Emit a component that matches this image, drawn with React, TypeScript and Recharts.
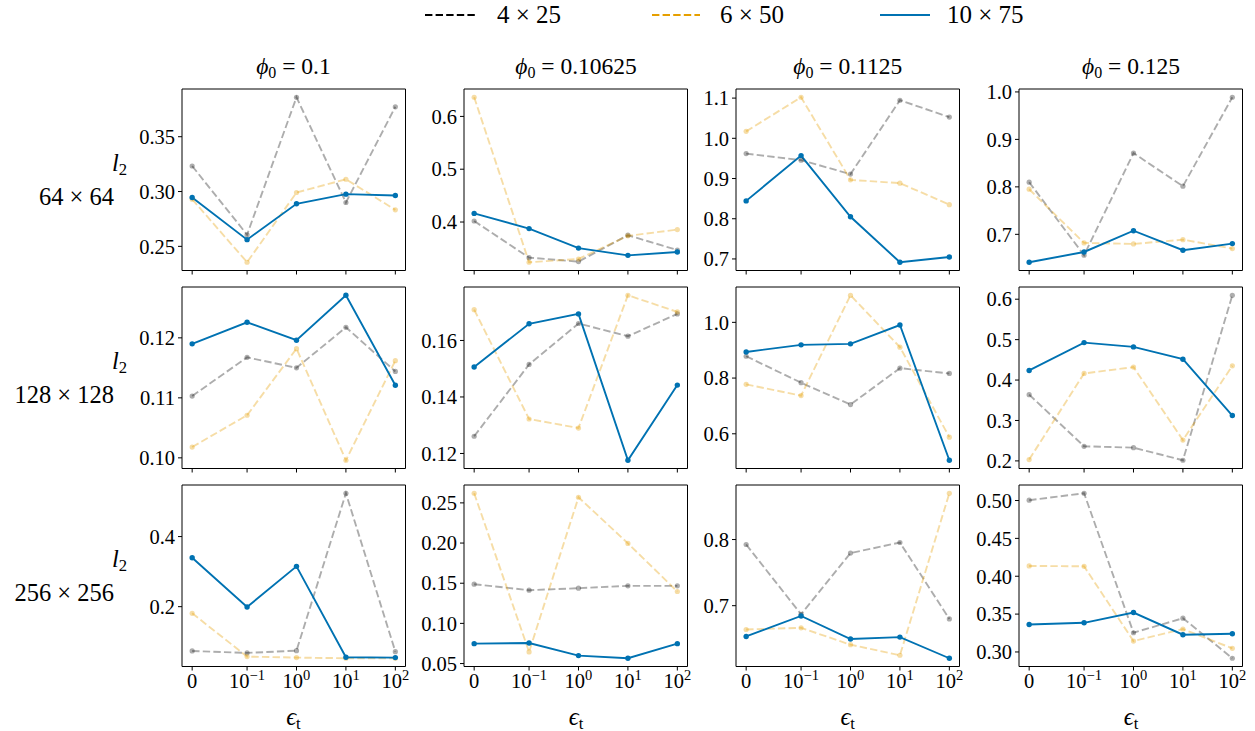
import React from "react";
import { LineChart, Line, XAxis, YAxis, ReferenceArea } from "recharts";

// epsilon_t values on the x axis (symlog scale, linthresh 0.1)
const epsValues = [0, 0.1, 1, 10, 100];
const epsLabels: [string, string][] = [
  ["0", ""],
  ["10", "−1"],
  ["10", "0"],
  ["10", "1"],
  ["10", "2"],
];
const phiLabels = ["0.1", "0.10625", "0.1125", "0.125"];
const resLabels = ["64 × 64", "128 × 128", "256 × 256"];
const netLabels = ["4 × 25", "6 × 50", "10 × 75"];

// l2 error, one row per phi0 column, values over epsValues
const net4x25_64 = [
  [0.3233, 0.2606, 0.386, 0.29, 0.3773],
  [0.4019, 0.3325, 0.325, 0.375, 0.3469],
  [0.962, 0.9457, 0.911, 1.0947, 1.0527],
  [0.8098, 0.656, 0.8712, 0.8014, 0.9888],
];
const net6x50_64 = [
  [0.293, 0.2355, 0.2991, 0.3112, 0.2833],
  [0.6363, 0.3238, 0.33, 0.3738, 0.3856],
  [1.0173, 1.1021, 0.8967, 0.8885, 0.835],
  [0.7951, 0.6819, 0.6798, 0.6888, 0.67],
];
const net10x75_64 = [
  [0.2945, 0.2561, 0.2888, 0.2976, 0.2964],
  [0.4163, 0.3875, 0.3506, 0.3369, 0.3431],
  [0.8444, 0.957, 0.8049, 0.6918, 0.705],
  [0.6412, 0.6628, 0.7077, 0.6665, 0.6805],
];
const net4x25_128 = [
  [0.1103, 0.11675, 0.115, 0.12176, 0.1144],
  [0.1261, 0.1515, 0.166, 0.1615, 0.1694],
  [0.8783, 0.7834, 0.705, 0.8356, 0.8166],
  [0.3639, 0.2361, 0.2328, 0.2016, 0.6098],
];
const net6x50_128 = [
  [0.1018, 0.1071, 0.1182, 0.0996, 0.1162],
  [0.1709, 0.1322, 0.129, 0.176, 0.1701],
  [0.7774, 0.737, 1.0973, 0.911, 0.588],
  [0.2033, 0.4164, 0.432, 0.2516, 0.4352],
];
const net10x75_128 = [
  [0.119, 0.1226, 0.1196, 0.1271, 0.1121],
  [0.1506, 0.1659, 0.1694, 0.1176, 0.1442],
  [0.8937, 0.9193, 0.9229, 0.9905, 0.505],
  [0.4238, 0.4926, 0.482, 0.4516, 0.3123],
];
const net4x25_256 = [
  [0.0736, 0.068, 0.0745, 0.5236, 0.0717],
  [0.1488, 0.1413, 0.1438, 0.1467, 0.1467],
  [0.7925, 0.687, 0.7795, 0.7955, 0.68],
  [0.5004, 0.5096, 0.3254, 0.3446, 0.2917],
];
const net6x50_256 = [
  [0.1811, 0.0575, 0.0547, 0.0528, 0.053],
  [0.262, 0.0645, 0.257, 0.1996, 0.1397],
  [0.664, 0.6665, 0.641, 0.625, 0.87],
  [0.4136, 0.4131, 0.3144, 0.3302, 0.3048],
];
const net10x75_256 = [
  [0.3396, 0.199, 0.315, 0.0557, 0.0547],
  [0.0748, 0.0756, 0.0599, 0.0566, 0.0748],
  [0.6535, 0.6845, 0.6495, 0.6525, 0.6205],
  [0.3363, 0.3385, 0.3521, 0.3228, 0.3241],
];

const yTicks64 = [
  ["0.25", "0.30", "0.35"],
  ["0.4", "0.5", "0.6"],
  ["0.7", "0.8", "0.9", "1.0", "1.1"],
  ["0.7", "0.8", "0.9", "1.0"],
];
const yTicks128 = [
  ["0.10", "0.11", "0.12"],
  ["0.12", "0.14", "0.16"],
  ["0.6", "0.8", "1.0"],
  ["0.2", "0.3", "0.4", "0.5", "0.6"],
];
const yTicks256 = [
  ["0.2", "0.4"],
  ["0.05", "0.10", "0.15", "0.20", "0.25"],
  ["0.7", "0.8"],
  ["0.30", "0.35", "0.40", "0.45", "0.50"],
];

const series4x25 = [net4x25_64, net4x25_128, net4x25_256];
const series6x50 = [net6x50_64, net6x50_128, net6x50_256];
const series10x75 = [net10x75_64, net10x75_128, net10x75_256];
const yTicksByRow = [yTicks64, yTicks128, yTicks256];

const FONT = "'Liberation Serif', 'DejaVu Serif', serif";
const BLACK = "#000000";
const ORANGE = "#E69F00";
const BLUE = "#0072B2";

// layout of the axes boxes (page pixels)
const COLS = [181.7, 464.3, 736, 1019.3];
const ROWS = [89, 287, 485];
const PW = 223.5;
const PH = 181.5;
const YW = 70;
const TOP = 14;
const RIGHT = 6;
const XH = 44;
const TICK_FS = 20.5;
const LABEL_FS = 24.5;

// matplotlib symlog transform, linthresh 0.1, linscale 1
function symlog(v: number) {
  const t = 0.1;
  const k = 1 / (1 - 1 / 10);
  const a = Math.abs(v);
  if (a <= t) return (v / t) * k;
  return Math.sign(v) * (k + Math.log10(a / t));
}

const xPos = epsValues.map(symlog);
const xSpan = xPos[xPos.length - 1] - xPos[0];
const xDomain: [number, number] = [xPos[0] - 0.05 * xSpan, xPos[xPos.length - 1] + 0.05 * xSpan];

function EpsTick(props: any) {
  const { x, y, payload, show } = props;
  if (!show) return <g />;
  let idx = 0;
  xPos.forEach((p, i) => {
    if (Math.abs(p - payload.value) < Math.abs(xPos[idx] - payload.value)) idx = i;
  });
  const [base, exp] = epsLabels[idx];
  return (
    <text x={x} y={y + 15} textAnchor="middle" fontSize={TICK_FS} fill="#000" fontFamily={FONT}>
      {base}
      {exp && (
        <tspan dy={-8} fontSize={14.5}>
          {exp}
        </tspan>
      )}
    </text>
  );
}

function Panel({ row, col }: { row: number; col: number }) {
  const a = series4x25[row][col];
  const b = series6x50[row][col];
  const c = series10x75[row][col];
  const data = epsValues.map((e, i) => ({ x: symlog(e), a: a[i], b: b[i], c: c[i] }));
  const all = [...a, ...b, ...c];
  const lo = Math.min(...all);
  const hi = Math.max(...all);
  const pad = 0.05 * (hi - lo);
  const yDomain: [number, number] = [lo - pad, hi + pad];
  const tickLabels = yTicksByRow[row][col];
  const tickNums = tickLabels.map(Number);
  const showX = row === 2;

  return (
    <div
      style={{
        position: "absolute",
        left: COLS[col] - YW,
        top: ROWS[row] - TOP,
      }}
    >
      <LineChart
        width={YW + PW + RIGHT}
        height={TOP + PH + XH}
        data={data}
        margin={{ top: TOP, right: RIGHT, left: 0, bottom: 0 }}
      >
        <XAxis
          type="number"
          dataKey="x"
          domain={xDomain}
          ticks={xPos}
          interval={0}
          allowDataOverflow
          axisLine={false}
          tickSize={4}
          tickLine={{ stroke: "#000" }}
          height={XH}
          tick={<EpsTick show={showX} />}
        />
        <YAxis
          type="number"
          domain={yDomain}
          ticks={tickNums}
          interval={0}
          allowDataOverflow
          axisLine={false}
          tickSize={4}
          tickMargin={3}
          tickLine={{ stroke: "#000" }}
          width={YW}
          tick={{ fontSize: TICK_FS, fill: "#000", fontFamily: FONT }}
          tickFormatter={(v: number) => tickLabels[tickNums.indexOf(v)] ?? String(v)}
        />
        <Line
          type="linear"
          dataKey="a"
          stroke={BLACK}
          strokeOpacity={0.32}
          strokeWidth={1.9}
          strokeDasharray="7.4 3.2"
          dot={{ r: 2.6, fill: BLACK, fillOpacity: 0.32, stroke: "none" }}
          activeDot={false}
          isAnimationActive={false}
        />
        <Line
          type="linear"
          dataKey="b"
          stroke={ORANGE}
          strokeOpacity={0.35}
          strokeWidth={1.9}
          strokeDasharray="7.4 3.2"
          dot={{ r: 2.6, fill: ORANGE, fillOpacity: 0.35, stroke: "none" }}
          activeDot={false}
          isAnimationActive={false}
        />
        <Line
          type="linear"
          dataKey="c"
          stroke={BLUE}
          strokeWidth={1.9}
          dot={{ r: 2.7, fill: BLUE, stroke: "none" }}
          activeDot={false}
          isAnimationActive={false}
        />
        <ReferenceArea
          x1={xDomain[0]}
          x2={xDomain[1]}
          y1={yDomain[0]}
          y2={yDomain[1]}
          fill="none"
          fillOpacity={0}
          stroke="#000"
          strokeWidth={1}
          strokeOpacity={1}
        />
      </LineChart>
    </div>
  );
}

function Legend() {
  const items = [
    { x1: 425, x2: 476, tx: 497, color: BLACK, dash: "7.4 3.2" },
    { x1: 652, x2: 700, tx: 720, color: ORANGE, dash: "7.4 3.2" },
    { x1: 880, x2: 930, tx: 947, color: BLUE, dash: undefined },
  ];
  return (
    <svg width={1255} height={36} style={{ position: "absolute", left: 0, top: 0 }}>
      {items.map((it, i) => (
        <g key={i}>
          <line x1={it.x1} x2={it.x2} y1={15} y2={15} stroke={it.color} strokeWidth={2} strokeDasharray={it.dash} />
          <text x={it.tx} y={23} fontSize={25} fontFamily={FONT} fill="#000">
            {netLabels[i]}
          </text>
        </g>
      ))}
    </svg>
  );
}

const subStyle: React.CSSProperties = { fontSize: "0.68em", verticalAlign: "-0.22em" };

export default function App() {
  return (
    <div
      style={{
        position: "absolute",
        left: 0,
        top: 0,
        width: 1255,
        height: 731,
        background: "#fff",
        fontFamily: FONT,
        color: "#000",
      }}
    >
      <Legend />
      {phiLabels.map((p, c) => (
        <div
          key={p}
          style={{
            position: "absolute",
            left: COLS[c] + PW / 2,
            top: 52,
            transform: "translateX(-50%)",
            fontSize: 23.5,
            lineHeight: "28px",
            whiteSpace: "nowrap",
          }}
        >
          <i>ϕ</i>
          <sub style={subStyle}>0</sub>
          {" = "}
          {p}
        </div>
      ))}
      {resLabels.map((r, i) => (
        <React.Fragment key={r}>
          <div
            style={{
              position: "absolute",
              left: 112,
              top: ROWS[i] + 60,
              fontSize: LABEL_FS,
              lineHeight: "28px",
              whiteSpace: "nowrap",
            }}
          >
            <i>l</i>
            <sub style={subStyle}>2</sub>
          </div>
          <div
            style={{
              position: "absolute",
              right: 1255 - 114,
              top: ROWS[i] + 94,
              fontSize: LABEL_FS,
              lineHeight: "28px",
              whiteSpace: "nowrap",
            }}
          >
            {r}
          </div>
        </React.Fragment>
      ))}
      {COLS.map((x, c) => (
        <div
          key={c}
          style={{
            position: "absolute",
            left: x + PW / 2,
            top: 703,
            transform: "translateX(-50%)",
            fontSize: LABEL_FS,
            lineHeight: "28px",
            whiteSpace: "nowrap",
          }}
        >
          <i>ϵ</i>
          <sub style={subStyle}>t</sub>
        </div>
      ))}
      {ROWS.map((_, r) => COLS.map((__, c) => <Panel key={`${r}-${c}`} row={r} col={c} />))}
    </div>
  );
}
